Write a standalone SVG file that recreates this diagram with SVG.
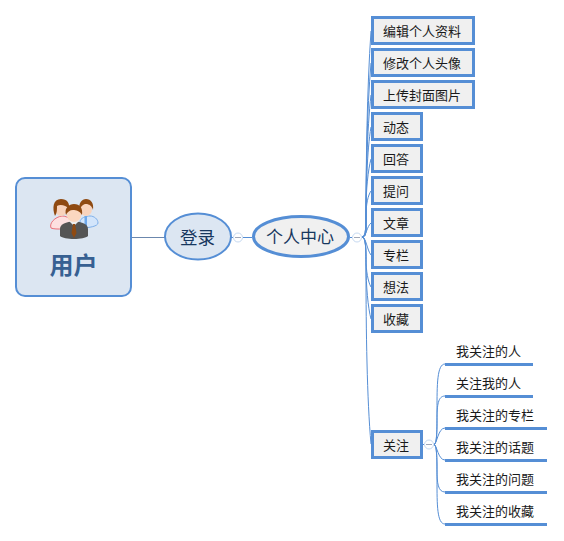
<svg xmlns="http://www.w3.org/2000/svg" width="564" height="541" viewBox="0 0 564 541">
<style>
text{font-family:"Noto Sans CJK SC","Noto Sans",sans-serif;text-anchor:middle;dominant-baseline:central}
.box{fill:#f0f0f0;stroke:#558ed5;stroke-width:3}
.t{font-size:13px;fill:#1a1a1a}
.c{fill:none;stroke:#558ed5;stroke-width:1}
.u{fill:none;stroke:#558ed5;stroke-width:3}
.tog{fill:#fff;stroke:#c6d9f1;stroke-width:1}
.m{stroke:#a0a8b8;stroke-width:1}
</style>
<rect width="564" height="541" fill="#fff"/>
<g id="connectors">
<path d="M131 237.500H165" class="c" style="stroke:#6b87ad"/>
<path class="c" d="M231 237.500H233M243 237.500H252M350 237.500H352"/>
<path class="c" d="M362 237C366 237 366 232 366 225C366 160 367 90 371 31"/>
<path class="c" d="M362 237C366 237 366 232 366 225C366 170 367 110 371 63"/>
<path class="c" d="M362 237C366 237 366 232 366 225C366 180 367 130 371 95"/>
<path class="c" d="M362 237C366 237 366 232 366 225C366 190 367 150 371 127"/>
<path class="c" d="M362 237C366 237 366 225 366 210C366 190 368 170 371 159"/>
<path class="c" d="M362 237C366 237 366 225 366 215C366 205 368 195 371 191"/>
<path class="c" d="M362 237C366 237 367 226 371 223"/>
<path class="c" d="M362 237C366 237 367 250 371 255"/>
<path class="c" d="M362 237C366 237 366 250 366 260C366 270 368 282 371 287"/>
<path class="c" d="M362 237C366 237 366 250 366 265C366 285 368 308 371 319"/>
<path class="c" d="M362 237C366 237 366 250 366 270C366 330 367 400 371 444"/>
<path class="c" d="M434 444.500C437 444 437 430 437 410C437 385 437 364 445 364"/>
<path class="c" d="M434 444.500C437 444 437 430 437 420C437 405 438 396 445 396"/>
<path class="c" d="M434 444.500C437 444 438 428 445 428"/>
<path class="c" d="M434 444.500C437 445 438 460 445 460"/>
<path class="c" d="M434 444.500C437 445 437 460 437 470C437 483 438 492 445 492"/>
<path class="c" d="M434 444.500C437 445 437 460 437 480C437 505 437 524 445 524"/>
<path class="c" d="M423 444.500H424"/>
<circle class="tog" cx="238" cy="237.500" r="4.500"/><path class="m" d="M235 237.500H241"/>
<circle class="tog" cx="357" cy="237.500" r="4.500"/><path class="m" d="M354 237.500H360"/>
<circle class="tog" cx="429" cy="444.500" r="4.500"/><path class="m" d="M426 444.500H432"/>
</g>
<g id="root">
<rect x="16" y="178" width="115" height="118" rx="9" fill="#dce6f2" stroke="#558ed5" stroke-width="2"/>
<g id="icon">
<path d="M80 227V222C80 218 86 216 90 216C94 216 98 219 98 223C98 226 90 228 80 228Z" fill="#d3e5fb" stroke="#7fb0ea"/>
<path d="M84.500 216h2.500v13h-2.500z" fill="#6fa8ea"/>
<ellipse cx="86" cy="209" rx="6" ry="7" fill="#f9d3bc"/>
<path d="M79.500 211C78 203 82 199 86 199C91 199 94 203 93 210C92 206 89 204 86 204C83 204 81 206 79.500 211Z" fill="#8f4a12"/>
<path d="M51 228C49 223 55 217 62 216C68 216 72 220 72 226C72 229 55 230 51 228Z" fill="#fde0e0" stroke="#ea7078"/>
<ellipse cx="61" cy="209" rx="6" ry="7" fill="#f9d3bc"/>
<path d="M55 216C52 208 53 199 61 199C67 199 70 203 69 209C66 205 60 204 57 206C57 210 57 213 55 216Z" fill="#8f4a12"/>
<path d="M60 236V229C60 224 66 222 74 221C82 222 88 224 88 229V236C84 240 64 240 60 236Z" fill="#555"/>
<path d="M69 221L74 226L79 221L77 219H71Z" fill="#eee"/>
<path d="M73 224h2l1.500 9-2.500 5-2.500-5z" fill="#8f4a12"/>
<ellipse cx="74" cy="214" rx="7.500" ry="8" fill="#fbd7c0"/>
<path d="M66 215C64 208 69 204 74 204C80 204 83 208 82 215C80 211 76 210 73 210C70 210 67 212 66 215Z" fill="#8f4a12"/>
</g>
<text x="73.500" y="263.500" font-size="24" font-weight="700" fill="#376092">用户</text>
</g>
<g id="login"><ellipse cx="198" cy="236.500" rx="33" ry="23" fill="#dce6f2" stroke="#558ed5" stroke-width="2"/><text x="197.500" y="236.500" font-size="17.500" fill="#17375e">登录</text></g>
<g id="center"><ellipse cx="301" cy="236.500" rx="47.500" ry="20" fill="#f0f0f0" stroke="#558ed5" stroke-width="3"/><text x="300" y="235.500" font-size="17" fill="#17375e">个人中心</text></g>
<g id="n1"><rect class="box" x="372.500" y="17.500" width="101" height="26"/><text class="t" x="422" y="30">编辑个人资料</text></g>
<g id="n2"><rect class="box" x="372.500" y="49.500" width="101" height="26"/><text class="t" x="422" y="62">修改个人头像</text></g>
<g id="n3"><rect class="box" x="372.500" y="81.500" width="101" height="26"/><text class="t" x="422" y="94">上传封面图片</text></g>
<g id="n4"><rect class="box" x="372.500" y="113.500" width="49" height="26"/><text class="t" x="396" y="126">动态</text></g>
<g id="n5"><rect class="box" x="372.500" y="145.500" width="49" height="26"/><text class="t" x="396" y="158">回答</text></g>
<g id="n6"><rect class="box" x="372.500" y="177.500" width="49" height="26"/><text class="t" x="396" y="190">提问</text></g>
<g id="n7"><rect class="box" x="372.500" y="209.500" width="49" height="26"/><text class="t" x="396" y="222">文章</text></g>
<g id="n8"><rect class="box" x="372.500" y="241.500" width="49" height="26"/><text class="t" x="396" y="254">专栏</text></g>
<g id="n9"><rect class="box" x="372.500" y="273.500" width="49" height="26"/><text class="t" x="396" y="286">想法</text></g>
<g id="n10"><rect class="box" x="372.500" y="305.500" width="49" height="26"/><text class="t" x="396" y="318">收藏</text></g>
<g id="n11"><rect class="box" x="372.500" y="431.500" width="49" height="26"/><text class="t" x="396" y="444">关注</text></g>
<g id="s1"><path class="u" d="M445 364.500H533"/><text class="t" x="488.500" y="350">我关注的人</text></g>
<g id="s2"><path class="u" d="M445 396.500H533"/><text class="t" x="488.500" y="382">关注我的人</text></g>
<g id="s3"><path class="u" d="M445 428.500H547"/><text class="t" x="495" y="414">我关注的专栏</text></g>
<g id="s4"><path class="u" d="M445 460.500H547"/><text class="t" x="495" y="446">我关注的话题</text></g>
<g id="s5"><path class="u" d="M445 492.500H547"/><text class="t" x="495" y="478">我关注的问题</text></g>
<g id="s6"><path class="u" d="M445 524.500H547"/><text class="t" x="495" y="510">我关注的收藏</text></g>
</svg>
